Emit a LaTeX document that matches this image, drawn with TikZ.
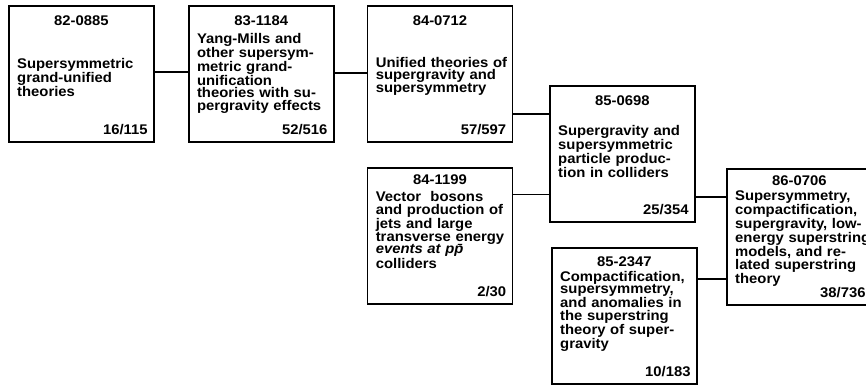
\documentclass[tikz,border=0pt]{standalone}
\usepackage{fontspec}
\setmainfont{Liberation Sans}[FakeStretch=1.06]
\usetikzlibrary{positioning}

\begin{document}
\begin{tikzpicture}[x=1pt,y=-1pt,
    paper/.style={draw,line width=1.8pt,minimum width=145pt,minimum height=136pt,anchor=north west,inner sep=0pt},
    paperno/.style={font=\fontsize{14}{12.7}\selectfont\bfseries,anchor=base,inner sep=0pt},
    papertxt/.style={font=\fontsize{14}{12.7}\selectfont\bfseries,text width=136pt,align=left,anchor=base west,inner sep=0pt},
    papercnt/.style={font=\fontsize{14}{12.7}\selectfont\bfseries,anchor=base east,inner sep=0pt},
    link/.style={line width=1.5pt}]
    \useasboundingbox (0,0) rectangle (866,384);
    % the boxes
    \node[paper] (p1) at (8,5) {};
    \node[paper,right=33pt of p1] (p2) {};
    \node[paper,right=32pt of p2] (p3) {};
    \node[paper] (p4) at (549,85) {};
    \node[paper,below=24pt of p3] (p5) {};
    \node[paper] (p6) at (726,168) {};
    \node[paper] (p7) at (551,247) {};
    % numbers, titles and counts
    \node[paperno] (n1) at ([yshift=-20pt]p1.north) {82-0885};
    \node[papertxt] (t1) at ([xshift=9pt,yshift=-63pt]p1.north west) {Supersymmetric\\grand-unified\\theories};
    \node[papercnt] (c1) at ([xshift=-7pt,yshift=8pt]p1.south east) {16/115};
    \node[paperno] (n2) at ([yshift=-20pt]p2.north) {83-1184};
    \node[papertxt] (t2) at ([xshift=9pt,yshift=-38pt]p2.north west) {Yang-Mills and\\other supersym-\\metric grand-\\unification\\theories with su-\\pergravity effects};
    \node[papercnt] (c2) at ([xshift=-7pt,yshift=8pt]p2.south east) {52/516};
    \node[paperno] (n3) at ([yshift=-20pt]p3.north) {84-0712};
    \node[papertxt] (t3) at ([xshift=9pt,yshift=-62pt]p3.north west) {Unified theories of\\supergravity and\\supersymmetry};
    \node[papercnt] (c3) at ([xshift=-7pt,yshift=8pt]p3.south east) {57/597};
    \node[paperno] (n4) at ([yshift=-20pt]p4.north) {85-0698};
    \node[papertxt] (t4) at ([xshift=9pt,yshift=-50pt]p4.north west) {Supergravity and\\supersymmetric\\particle produc-\\tion in colliders};
    \node[papercnt] (c4) at ([xshift=-7pt,yshift=8pt]p4.south east) {25/354};
    \node[paperno] (n5) at ([yshift=-18pt]p5.north) {84-1199};
    \node[papertxt] (t5) at ([xshift=9pt,yshift=-35pt]p5.north west) {Vector\ \ bosons\\and production of\\jets and large\\transverse energy\\\textit{events at pp̄}\\colliders};
    \node[papercnt] (c5) at ([xshift=-7pt,yshift=8pt]p5.south east) {2/30};
    \node[paperno] (n6) at ([yshift=-17pt]p6.north) {86-0706};
    \node[papertxt] (t6) at ([xshift=9pt,yshift=-32pt]p6.north west) {Supersymmetry,\\compactification,\\supergravity, low-\\energy superstring\\models, and re-\\lated superstring\\theory};
    \node[papercnt] (c6) at ([xshift=-7pt,yshift=8pt]p6.south east) {38/736};
    \node[paperno] (n7) at ([yshift=-19pt]p7.north) {85-2347};
    \node[papertxt] (t7) at ([xshift=9pt,yshift=-34pt]p7.north west) {Compactification,\\supersymmetry,\\and anomalies in\\the superstring\\theory of super-\\gravity};
    \node[papercnt] (c7) at ([xshift=-7pt,yshift=8pt]p7.south east) {10/183};
    % links
    \draw[link] ([yshift=2pt]p1.east) -- ([yshift=2pt]p2.west);
    \draw[link] ([yshift=1pt]p2.east) -- ([yshift=1pt]p3.west);
    \draw[link] ([yshift=-40pt]p3.east) -- ([yshift=-40pt]p3.east -| p4.west);
    \draw[link] ([yshift=41pt]p5.east) -- ([yshift=41pt]p5.east -| p4.west);
    \draw[link] ([yshift=-43pt]p4.east) -- ([yshift=-43pt]p4.east -| p6.west);
    \draw[link] ([yshift=37pt]p7.east) -- ([yshift=37pt]p7.east -| p6.west);
\end{tikzpicture}
\end{document}
